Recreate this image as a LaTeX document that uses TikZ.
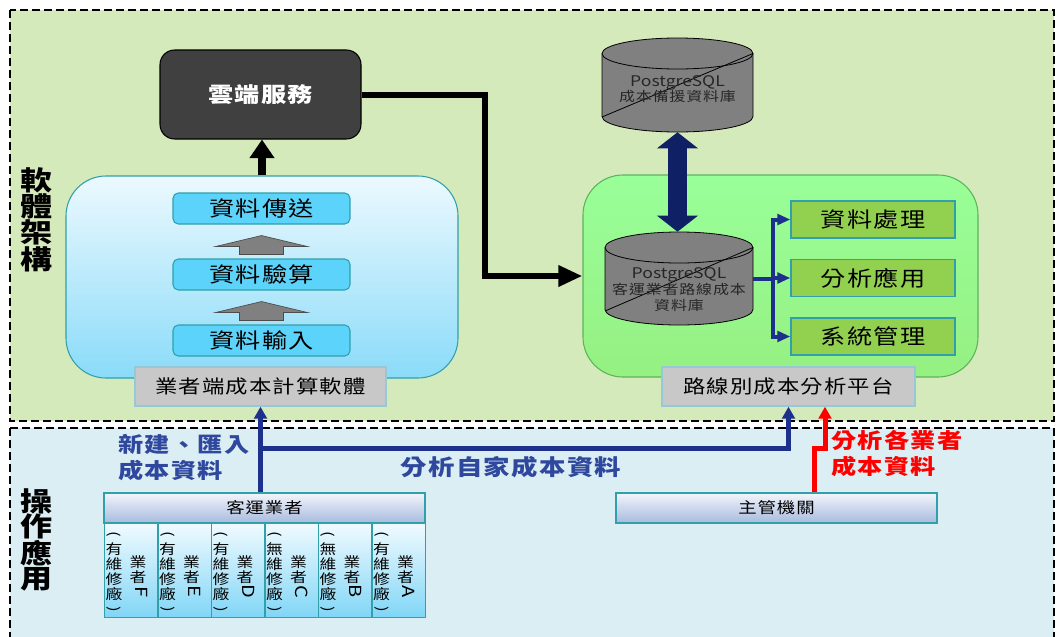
\documentclass[tikz,border=0pt]{standalone}
\usepackage{fontspec}
\usepackage{graphicx}
\setmainfont{Noto Sans CJK TC}[FakeStretch=1.2, LetterSpace=6]
\usetikzlibrary{calc,arrows.meta}
\definecolor{topbg}{RGB}{213,234,187}
\definecolor{botbg}{RGB}{218,238,243}
\definecolor{cloudgray}{RGB}{64,64,64}
\definecolor{tealline}{RGB}{49,160,170}
\definecolor{swtop}{RGB}{236,249,254}
\definecolor{swbot}{RGB}{138,219,249}
\definecolor{stepcyan}{RGB}{92,211,250}
\definecolor{taggray}{RGB}{200,200,200}
\definecolor{tagline}{RGB}{150,200,215}
\definecolor{greentop}{RGB}{153,255,153}
\definecolor{greenmid}{RGB}{145,215,95}
\definecolor{greenbot}{RGB}{150,240,130}
\definecolor{greenline}{RGB}{90,180,90}
\definecolor{funcgreen}{RGB}{146,208,80}
\definecolor{dbgray}{RGB}{128,128,128}
\definecolor{navy}{RGB}{16,32,100}
\definecolor{connblue}{RGB}{28,48,140}
\definecolor{lblblue}{RGB}{47,72,158}
\definecolor{headtop}{RGB}{242,245,251}
\definecolor{headbot}{RGB}{168,186,222}
\definecolor{celltop}{RGB}{240,250,255}
\definecolor{cellbot}{RGB}{128,214,246}
\def\blockup[#1](#2)(#3){\draw[#1] ($(#2.north)+(-22,-4)$) -- ($(#3.south)+(-22,22)$) -- ($(#3.south)+(-46,22)$) -- ($(#3.south)+(0,11)$) -- ($(#3.south)+(46,22)$) -- ($(#3.south)+(22,22)$) -- ($(#2.north)+(22,-4)$) -- cycle;}
\def\vendorcell(#1)(#2)(#3)(#4){\node[vcell, anchor=north west] (#1) at (#2,523) {};
	\node[vtext] (#1note) at ($(#1.north west)+(10,50)$) {\rotatebox[origin=c]{-90}{(}\\#4\\維\\修\\廠\\\rotatebox[origin=c]{-90}{)}};
	\node[vtext] (#1name) at ($(#1.north west)+(34,54)$) {業\\者\\\hspace*{0.5em}\rotatebox[origin=c]{-90}{\fontsize{12.5}{12}\selectfont #3}};}
\def\pgsql{{\addfontfeatures{LetterSpace=0}\fontsize{11}{11}\selectfont PostgreSQL}}

\begin{document}
\begin{tikzpicture}[x=0.75pt, y=-0.75pt,
	dashframe/.style={line width=2.2pt, dash pattern=on 6pt off 3pt},
	cloudbox/.style={draw=black, line width=0.8pt, fill=cloudgray, rounded corners=11pt, minimum width=150.75pt, minimum height=66.75pt, text=white, font={\bfseries\fontsize{15.75}{18}\selectfont}},
	swpanel/.style={draw=tealline, line width=0.8pt, rounded corners=30pt, top color=swtop, bottom color=swbot, minimum width=294pt, minimum height=151.5pt},
	stepbox/.style={draw=tealline, line width=0.8pt, rounded corners=4pt, fill=stepcyan, minimum width=132.75pt, minimum height=23.25pt, inner sep=0pt, font={\fontsize{15.75}{18}\selectfont}},
	tagbox/.style={draw=tagline, line width=1pt, fill=taggray, minimum width=188.25pt, minimum height=29.25pt, inner sep=0pt, font={\fontsize{14}{16}\selectfont}},
	platpanel/.style={draw=greenline, line width=0.8pt, rounded corners=30pt, top color=greentop, middle color=greenmid, bottom color=greenbot, minimum width=296.25pt, minimum height=151.5pt},
	funcbox/.style={draw=tealline, line width=1pt, fill=funcgreen, minimum width=123pt, minimum height=27.75pt, inner sep=0pt, font={\fontsize{15.75}{18}\selectfont}},
	dbbox/.style={inner sep=0pt},
	dbshape/.style={draw=black, line width=0.6pt, fill=dbgray},
	dbtext/.style={align=center, inner sep=0pt, text=black!85, font={\fontsize{10}{11.25}\selectfont}},
	grouphead/.style={draw=tealline, line width=1pt, top color=headtop, bottom color=headbot, minimum width=240.75pt, minimum height=22.5pt, inner sep=0pt, font={\fontsize{11.5}{14}\selectfont}},
	vcell/.style={draw=tealline, line width=1pt, top color=celltop, bottom color=cellbot, minimum width=40.1pt, minimum height=70.5pt, inner sep=0pt},
	vtext/.style={align=center, inner sep=0pt, font={\fontsize{10.5}{11.25}\selectfont}},
	sidelabel/.style={align=center, inner sep=0pt, font={\bfseries\fontsize{20}{19}\selectfont}},
	flowlabel/.style={align=left, inner sep=0pt, text=lblblue, font={\bfseries\fontsize{15.75}{19.5}\selectfont}},
	bigblack/.style={draw=black, line width=4.5pt, -{Triangle[length=18pt,width=15pt]}},
	uparrow/.style={draw=black, line width=6pt, -{Triangle[length=14pt,width=18pt]}},
	dbarrow/.style={draw=navy, line width=14pt, {Triangle[length=12pt,width=30pt]}-{Triangle[length=12pt,width=30pt]}},
	navyline/.style={draw=connblue, line width=3pt, -{Triangle[length=9.75pt,width=8pt]}},
	feedline/.style={draw=connblue, line width=3.5pt, -{Triangle[length=9pt,width=9.5pt]}},
	redline/.style={draw=red, line width=3.75pt, -{Triangle[length=9pt,width=9.5pt]}}]
			%%%%% START %%%%%
			\useasboundingbox (0,0) rectangle (1057,636);
			
			\draw[dashframe, fill=topbg] (10,10) rectangle (1054,421);
			\draw[dashframe, fill=botbg] (10,428) rectangle (1054,660);
			
			\node[sidelabel] (swside) at (37,220) {軟\\體\\架\\構};
			\node[sidelabel] (opside) at (37,540) {操\\作\\應\\用};
			
			\node[cloudbox] (cloud) at (260.5,94.5) {雲端服務};
			
			\node[swpanel] (swpanel) at (262,277) {};
			\node[stepbox] (send) at (261.5,208.5) {資料傳送};
			\node[stepbox] (check) at (261.5,274.5) {資料驗算};
			\node[stepbox] (input) at (261.5,340.5) {資料輸入};
			\blockup[draw=black!70, line width=0.5pt, fill=dbgray](check)(send);
			\blockup[draw=black!70, line width=0.5pt, fill=dbgray](input)(check);
			\node[tagbox] (swtag) at (260.5,386.5) {業者端成本計算軟體};
			
			\draw[uparrow] (swpanel.north) -- (swpanel.north |- cloud.south);
			
			\node[dbbox, minimum width=113.25pt, minimum height=70.5pt] (backupdb) at (677.5,85) {};
			\draw[dbshape] (602,53.5) -- (602,116.5) arc[start angle=180, end angle=0, x radius=75.5, y radius=15.5] -- (753,53.5) arc[start angle=0, end angle=-180, x radius=75.5, y radius=15.5] -- cycle;
			\draw[line width=0.6pt] (602,53.5) arc[start angle=180, end angle=0, x radius=75.5, y radius=15.5];
			\draw[line width=0.6pt] (602,117) -- (753,53.5);
			\node[dbtext] (backuptxt) at (677.5,89.5) {\pgsql\\成本備援資料庫};
			
			\node[platpanel] (platform) at (780.5,276) {};
			\draw[bigblack] (cloud.east) -- ++(123,0) |- (platform.west);
			
			\node[dbbox, minimum width=111pt, minimum height=69.75pt] (routedb) at (679,278.5) {};
			\draw[dbshape] (605,247.5) -- (605,309.5) arc[start angle=180, end angle=0, x radius=74, y radius=15.5] -- (753,247.5) arc[start angle=0, end angle=-180, x radius=74, y radius=15.5] -- cycle;
			\draw[line width=0.6pt] (605,247.5) arc[start angle=180, end angle=0, x radius=74, y radius=15.5];
			\draw[line width=0.6pt] (605,311) -- (753,247.5);
			\node[dbtext, font={\fontsize{10}{12}\selectfont}] (routetxt) at (679,290) {\pgsql\\客運業者路線成本\\資料庫};
			
			\draw[dbarrow] (backupdb.south) -- (backupdb.south |- routedb.north);
			
			\node[funcbox] (proc) at (873,219.5) {資料處理};
			\node[funcbox] (app) at (873,278) {分析應用};
			\node[funcbox] (sys) at (873,336.5) {系統管理};
			\draw[navyline] (routedb.east) -- ++(20,0) |- (proc.west);
			\draw[navyline] (routedb.east) -- ++(20,0) |- (app.west);
			\draw[navyline] (routedb.east) -- ++(20,0) |- (sys.west);
			\node[tagbox, minimum width=189.75pt] (plattag) at (788.5,386.5) {路線別成本分析平台};
			
			\node[grouphead] (operators) at (264.5,508) {客運業者};
			\vendorcell(cellF)(104)(F)(有)
			\vendorcell(cellE)(157.5)(E)(有)
			\vendorcell(cellD)(211)(D)(有)
			\vendorcell(cellC)(264.5)(C)(無)
			\vendorcell(cellB)(318)(B)(無)
			\vendorcell(cellA)(371.5)(A)(有)
			
			\node[grouphead] (gov) at (776.5,508) {主管機關};
			
			\path (swtag.south |- operators.north) ++(0,-44) coordinate (feedsplit);
			\draw[feedline] (swtag.south |- operators.north) -- (swtag.south);
			\draw[feedline] (feedsplit) -| (plattag.south);
			\path (gov.north) ++(37.5,0) coordinate (govout);
			\draw[redline] (govout) -- ++(0,-44) -| ($(plattag.south)+(36.5,0)$);
			
			\node[flowlabel, anchor=west] (newlbl) at (118,457.5) {新建、匯入\\成本資料};
			\node[flowlabel, font={\bfseries\fontsize{16.5}{19.5}\selectfont}] (ownlbl) at (511,467) {分析自家成本資料};
			\node[flowlabel, text=red, anchor=west] (govlbl) at (831,454) {分析各業者\\成本資料};
			%%%%% END %%%%%
\end{tikzpicture}
\end{document}
